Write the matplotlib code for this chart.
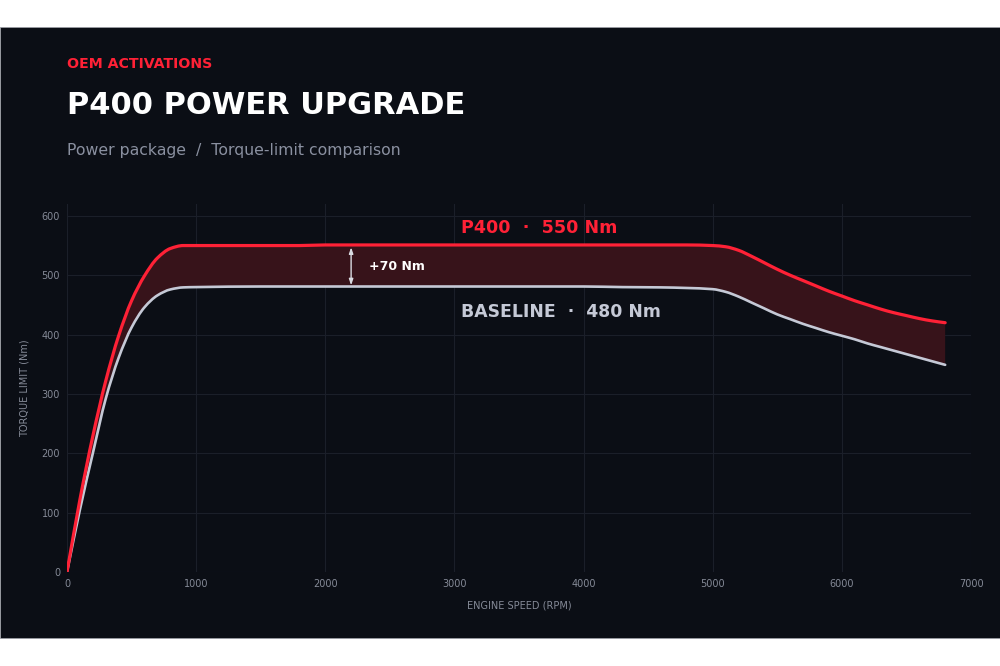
import matplotlib
matplotlib.use("Agg")
import numpy as np
import matplotlib.pyplot as plt
from matplotlib.patches import Rectangle, PathPatch
from matplotlib.path import Path

# ---- data ----
rpm = [0, 100, 200, 300, 400, 500, 600, 700, 800, 900, 1000, 1500, 1800, 2000,
       3000, 4000, 4300, 4600, 4800, 5000, 5100, 5200, 5300, 5400, 5500, 5600,
       5700, 5800, 5900, 6000, 6100, 6200, 6300, 6400, 6500, 6600, 6700, 6800]
p400 = [0, 122, 229, 322, 398, 457, 499, 529, 545, 550, 550, 550, 550, 551,
        551, 551, 551, 551, 551, 550, 548, 542, 532, 521, 510, 500,
        491, 482, 473, 465, 457, 450, 443, 437, 432, 427, 423, 420]
baseline = [0, 105, 200, 292, 361, 412, 446, 466, 476, 479.5, 480, 481, 481, 481,
            481, 481, 480, 479.5, 478.5, 476.5, 472, 464, 454, 444, 434, 426,
            418, 411, 404, 398, 392, 385, 379, 373, 367, 361, 355, 349]
x_ticks = [0, 1000, 2000, 3000, 4000, 5000, 6000, 7000]
y_ticks = [0, 100, 200, 300, 400, 500, 600]
gain_rpm = 2200
gain_low, gain_high = 480, 550

BG = "#0b0e15"
RED = "#ff2136"
BASE = "#c5c9d6"
GRID = "#1b1f29"
TICK = "#858a97"


def smooth_vertices(x, y):
    """Monotone cubic (Fritsch-Carlson) curve through the points, as Bezier vertices."""
    x = np.asarray(x, float)
    y = np.asarray(y, float)
    h = np.diff(x)
    d = np.diff(y) / h
    n = len(x)
    m = np.zeros(n)
    m[0], m[-1] = d[0], d[-1]
    for i in range(1, n - 1):
        if d[i - 1] * d[i] <= 0:
            m[i] = 0.0
        else:
            w1 = 2 * h[i] + h[i - 1]
            w2 = h[i] + 2 * h[i - 1]
            m[i] = (w1 + w2) / (w1 / d[i - 1] + w2 / d[i])
    verts = [(x[0], y[0])]
    for i in range(n - 1):
        verts.append((x[i] + h[i] / 3, y[i] + m[i] * h[i] / 3))
        verts.append((x[i + 1] - h[i] / 3, y[i + 1] - m[i + 1] * h[i] / 3))
        verts.append((x[i + 1], y[i + 1]))
    return verts


def curve_path(verts):
    codes = [Path.MOVETO] + [Path.CURVE4] * (len(verts) - 1)
    return Path(verts, codes)


fig = plt.figure(figsize=(10, 6.66), dpi=100, facecolor="white")
fig.patches.append(Rectangle((0, 1 - 638 / 666), 1, (638 - 27) / 666,
                             transform=fig.transFigure, facecolor=BG,
                             edgecolor="#9a9ca3", linewidth=0.6, zorder=-10))

ax = fig.add_axes([0.067, 1 - 572 / 666, 0.904, (572 - 204) / 666])
ax.set_facecolor(BG)
ax.set_xlim(0, 7000)
ax.set_ylim(0, 620)
for s in ax.spines.values():
    s.set_visible(False)
ax.set_xticks(x_ticks)
ax.set_yticks(y_ticks)
ax.tick_params(length=0, colors=TICK, labelsize=7, pad=5)
ax.grid(True, color=GRID, linewidth=0.8)
ax.set_axisbelow(True)

red_v = smooth_vertices(rpm, p400)
base_v = smooth_vertices(rpm, baseline)

# band between the two curves
band_v = red_v + [base_v[-1]] + base_v[::-1][1:] + [red_v[0]]
band_codes = ([Path.MOVETO] + [Path.CURVE4] * (len(red_v) - 1) + [Path.LINETO]
              + [Path.CURVE4] * (len(base_v) - 1) + [Path.CLOSEPOLY])
ax.add_patch(PathPatch(Path(band_v, band_codes), facecolor="#37131a",
                       edgecolor="none", zorder=2))

ax.add_patch(PathPatch(curve_path(base_v), facecolor="none", edgecolor=BASE,
                       linewidth=1.9, capstyle="round", joinstyle="round", zorder=3))
ax.add_patch(PathPatch(curve_path(red_v), facecolor="none", edgecolor=RED,
                       linewidth=2.3, capstyle="round", joinstyle="round", zorder=4))

ax.annotate("", xy=(gain_rpm, gain_high - 3), xytext=(gain_rpm, gain_low + 3),
            arrowprops=dict(arrowstyle="<|-|>,head_length=0.35,head_width=0.12",
                            color="#d9dbe2", lw=1.0, shrinkA=0, shrinkB=0), zorder=5)
ax.text(gain_rpm + 140, (gain_low + gain_high) / 2, "+70 Nm", color="white",
        fontsize=9, fontweight="bold", va="center", ha="left", zorder=6)
ax.text(3050, 580, "P400  ·  550 Nm", color=RED, fontsize=12.6,
        fontweight="bold", va="center", ha="left")
ax.text(3050, 438, "BASELINE  ·  480 Nm", color=BASE, fontsize=12.4,
        fontweight="bold", va="center", ha="left")

ax.set_xlabel("ENGINE SPEED (RPM)", color=TICK, fontsize=7, labelpad=8)
ax.set_ylabel("TORQUE LIMIT (Nm)", color=TICK, fontsize=7, labelpad=9)

fig.text(0.067, 1 - 64 / 666, "OEM ACTIVATIONS", color=RED, fontsize=10.2,
         fontweight="bold", va="center", ha="left")
fig.text(0.067, 1 - 105 / 666, "P400 POWER UPGRADE", color="white", fontsize=22,
         fontweight="bold", va="center", ha="left")
fig.text(0.067, 1 - 150 / 666, "Power package  /  Torque-limit comparison",
         color="#8a90a0", fontsize=11.3, va="center", ha="left")

fig.savefig("out.png", dpi=100, facecolor="white")
